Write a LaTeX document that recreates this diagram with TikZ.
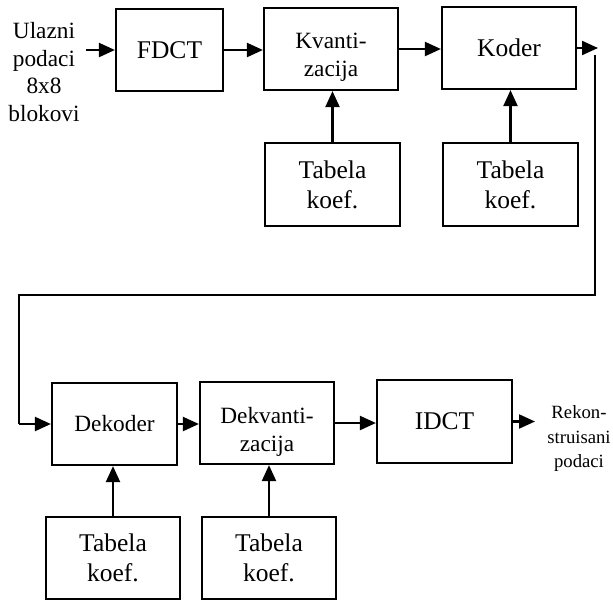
\documentclass[tikz,border=0pt]{standalone}
\usepackage{fontspec}
\setmainfont{Liberation Serif}
\usetikzlibrary{arrows.meta}
\begin{document}
\begin{tikzpicture}[x=1pt,y=-1pt,
  box/.style={draw, line width=2.2pt, inner sep=0pt, align=center},
  big/.style={font=\fontsize{25.5}{30}\selectfont},
  med/.style={font=\fontsize{23.3}{27.8}\selectfont},
  sml/.style={font=\fontsize{18.7}{24.5}\selectfont},
  arr/.style={line width=2.2pt, -{Triangle[length=16pt,width=14pt]}},
  ln/.style={line width=2.2pt}]
\useasboundingbox (0,0) rectangle (613,600);

% top row
\node[med, align=center] (in) at (44,72) {Ulazni\\podaci\\8x8\\blokovi};
\node[box,big,minimum width=107pt,minimum height=82pt] (fdct) at (169.5,50) {FDCT};
\node[box,minimum width=134pt,minimum height=82pt] (kv) at (331,49) {};
\node[med,align=center] (kvt) at (331,57.5) {Kvanti-\\zacija};
\node[box,big,minimum width=134pt,minimum height=82pt] (kod) at (509,48) {Koder};
\node[box,big,minimum width=135pt,minimum height=83pt] (t1) at (332.5,184.5) {Tabela\\koef.};
\node[box,big,minimum width=135pt,minimum height=83pt] (t2) at (510.5,184.5) {Tabela\\koef.};

% bottom row
\node[box,med,minimum width=125pt,minimum height=82pt] (dek) at (114.5,424) {Dekoder};
\node[box,minimum width=134pt,minimum height=82pt] (dkv) at (267,423) {};
\node[med,align=center] (dkvt) at (267,431.5) {Dekvanti-\\zacija};
\node[box,big,minimum width=135pt,minimum height=83pt] (idct) at (444.5,421.5) {IDCT};
\node[box,big,minimum width=134pt,minimum height=82pt] (t3) at (113,558) {Tabela\\koef.};
\node[box,big,minimum width=134pt,minimum height=82pt] (t4) at (269,558) {Tabela\\koef.};
\node[sml,align=center] (out) at (579,438.5) {Rekon-\\struisani\\podaci};

% coordinates
\coordinate (inS) at (86,50);
\coordinate (kodOut) at (598,48);
\coordinate (fbA) at (595,55);
\coordinate (fbB) at (595,295);
\coordinate (fbC) at (19,295);
\coordinate (fbD) at (19,424);
\coordinate (outE) at (535,421.5);

% connectors top
\draw[arr] (inS) -- (fdct.west);
\draw[arr] (fdct.east) -- (fdct.east -| kv.west);
\draw[arr] (kv.east) -- (kv.east -| kod.west);
\draw[arr] (kod.east) -- (kodOut);
\draw[arr] (t1.north) -- (t1.north |- kv.south);
\draw[arr] (t2.north) -- (t2.north |- kod.south);

% feedback line
\draw[ln] (fbA) -- (fbB) -- (fbC) -- (fbD);
\draw[arr] (fbD) -- (dek.west);

% connectors bottom
\draw[arr] (dek.east) -- (dek.east -| dkv.west);
\draw[arr] (dkv.east) -- (dkv.east -| idct.west);
\draw[arr] (idct.east) -- (outE);
\draw[arr] (t3.north) -- (t3.north |- dek.south);
\draw[arr] (t4.north) -- (t4.north |- dkv.south);
\end{tikzpicture}
\end{document}
